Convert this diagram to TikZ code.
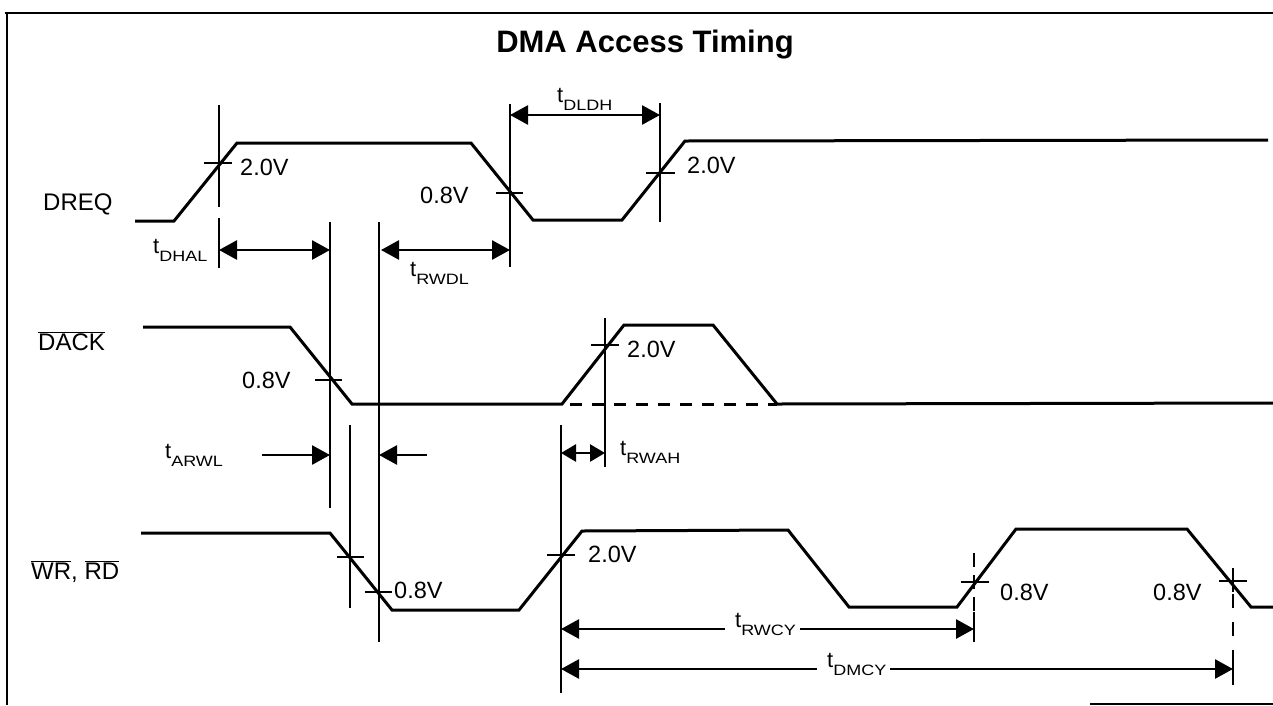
\documentclass[tikz,border=0pt]{standalone}
\usepackage{fontspec}
\setmainfont{Liberation Sans}
\newfontfamily\subfont[FakeStretch=1.2]{Liberation Sans}
\usetikzlibrary{arrows.meta}
\newcommand{\tsig}[1]{{\fontsize{22}{22}\selectfont t}\raisebox{-8pt}{\subfont\fontsize{15}{15}\selectfont #1}}
\newcommand{\ovl}[1]{$\overline{\hbox{#1}}$}
\begin{document}
\begin{tikzpicture}[x=1pt,y=-1pt,
  sig/.style={line width=3pt, line join=miter},
  refl/.style={line width=2.7pt},
  tck/.style={line width=2.7pt},
  dimone/.style={line width=2.7pt, -{Triangle[length=18pt,width=19pt]}},
  dimtwo/.style={line width=2.7pt, {Triangle[length=18pt,width=19pt]}-{Triangle[length=18pt,width=19pt]}},
  dimsmall/.style={line width=2.7pt, {Triangle[length=15pt,width=17pt]}-{Triangle[length=15pt,width=17pt]}},
  lab/.style={font=\fontsize{24}{24}\selectfont, inner sep=0pt, anchor=base west},
  volt/.style={font=\fontsize{23.5}{23.5}\selectfont, inner sep=0pt, anchor=base west},
  tl/.style={inner sep=0pt, anchor=base west},
]
\useasboundingbox (0,0) rectangle (1273,705);
% frame
\draw[line width=2.4pt] (5,13) -- (1273,13);
\draw[line width=2.4pt] (7,13) -- (7,705);
\draw[line width=1.8pt] (1090,704) -- (1273,704);

% title
\node[font=\fontsize{31}{31}\selectfont\bfseries, anchor=base, inner sep=0pt] (title) at (645,52) {DMA Access Timing};

% signal names
\node[lab] (ndreq) at (43,210) {DREQ};
\node[lab] (ndack) at (38,350) {\ovl{DACK}};
\node[lab] (nwrrd) at (31,579) {\ovl{WR}, \ovl{RD}};

% waveforms
\draw[sig] (135,221) -- (174,221) -- (237,143) -- (471,143) -- (533,220) -- (622,220) -- (685,141) -- (1268,140);
\draw[sig] (143,327) -- (290,327) -- (352,404) -- (562,404) -- (624,325) -- (713,325) -- (777,404) -- (1273,403);
\draw[sig, dash pattern=on 12pt off 10pt] (570,404) -- (777,404);
\draw[sig] (141,533) -- (330,533) -- (392,610) -- (519,610) -- (582,531) -- (788,530) -- (849,607) -- (957,607) -- (1016,529) -- (1187,529) -- (1251,607) -- (1273,607);

% reference lines
\draw[refl] (219,105) -- (219,207);
\draw[refl] (219,218) -- (219,268);
\draw[refl] (510,104) -- (510,267);
\draw[refl] (660,103) -- (660,222);
\draw[refl] (330,222) -- (330,508);
\draw[refl] (379,222) -- (379,642);
\draw[refl] (350,425) -- (350,608);
\draw[refl] (561,425) -- (561,693);
\draw[refl] (605,318) -- (605,467);
\draw[refl, dash pattern=on 14pt off 8pt] (974,553) -- (974,612);
\draw[refl] (974,612) -- (974,642);
\draw[refl] (1233,568) -- (1233,592);
\draw[refl, dash pattern=on 14pt off 14pt] (1233,594) -- (1233,650);
\draw[refl] (1233,650) -- (1233,685);

% threshold ticks
\draw[tck] (204,163) -- (232,163);
\draw[tck] (496,193) -- (523,193);
\draw[tck] (646,173) -- (675,173);
\draw[tck] (315,380) -- (342,380);
\draw[tck] (591,345) -- (619,345);
\draw[tck] (337,557) -- (364,557);
\draw[tck] (365,592) -- (392,592);
\draw[tck] (547,555) -- (575,555);
\draw[tck] (961,582) -- (989,582);
\draw[tck] (1219,581) -- (1247,581);

% voltage labels
\node[volt] (v1) at (240,175) {2.0V};
\node[volt] (v2) at (420,203) {0.8V};
\node[volt] (v3) at (687,173) {2.0V};
\node[volt] (v4) at (242,388) {0.8V};
\node[volt] (v5) at (627,357) {2.0V};
\node[volt] (v6) at (394,598) {0.8V};
\node[volt] (v7) at (588,562) {2.0V};
\node[volt] (v8) at (1000,600) {0.8V};
\node[volt] (v9) at (1153,600) {0.8V};

% timing labels
\node[tl] (tdldh) at (557,102) {\tsig{DLDH}};
\node[tl] (tdhal) at (153,253) {\tsig{DHAL}};
\node[tl] (trwdl) at (410,276) {\tsig{RWDL}};
\node[tl] (tarwl) at (165,458) {\tsig{ARWL}};
\node[tl] (trwah) at (620,455) {\tsig{RWAH}};
\node[tl] (trwcy) at (735,627) {\tsig{RWCY}};
\node[tl] (tdmcy) at (827,667) {\tsig{DMCY}};

% dimension arrow end points
\coordinate (dldhA) at (510,115);
\coordinate (dldhB) at (660,115);
\coordinate (dhalA) at (219,250);
\coordinate (dhalB) at (330,250);
\coordinate (rwdlA) at (381,250);
\coordinate (rwdlB) at (510,250);
\coordinate (arwlA) at (262,455);
\coordinate (arwlB) at (330,455);
\coordinate (arwlC) at (427,455);
\coordinate (arwlD) at (379,455);
\coordinate (rwahA) at (561,453);
\coordinate (rwahB) at (605,453);
\coordinate (rwcyA) at (561,629);
\coordinate (rwcyL) at (725,629);
\coordinate (rwcyR) at (800,629);
\coordinate (rwcyB) at (974,629);
\coordinate (dmcyA) at (561,669);
\coordinate (dmcyL) at (817,669);
\coordinate (dmcyR) at (890,669);
\coordinate (dmcyB) at (1233,669);

\draw[dimtwo] (dldhA) -- (dldhB);
\draw[dimtwo] (dhalA) -- (dhalB);
\draw[dimtwo] (rwdlA) -- (rwdlB);
\draw[dimone] (arwlA) -- (arwlB);
\draw[dimone] (arwlC) -- (arwlD);
\draw[dimsmall] (rwahA) -- (rwahB);
\draw[dimone] (rwcyL) -- (rwcyA);
\draw[dimone] (rwcyR) -- (rwcyB);
\draw[dimone] (dmcyL) -- (dmcyA);
\draw[dimone] (dmcyR) -- (dmcyB);
\end{tikzpicture}
\end{document}
